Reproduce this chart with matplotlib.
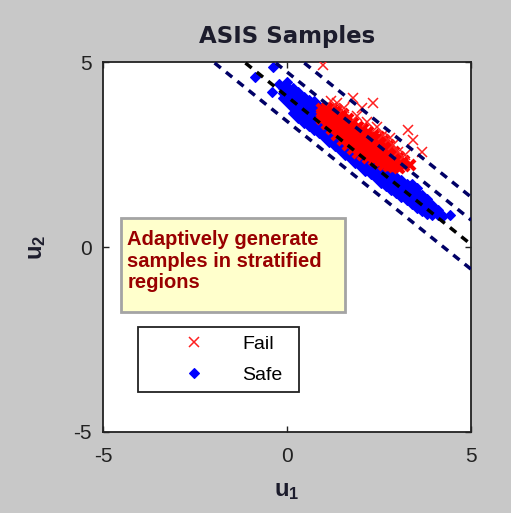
import matplotlib
matplotlib.use("Agg")
import matplotlib.pyplot as plt
from matplotlib.patches import Rectangle

plt.rcParams['font.family'] = ['Liberation Sans', 'DejaVu Sans']
plt.rcParams['mathtext.fontset'] = 'custom'
plt.rcParams['mathtext.rm'] = 'Liberation Sans'
plt.rcParams['mathtext.bf'] = 'Liberation Sans:bold'
plt.rcParams['axes.unicode_minus'] = False

# stratification lines u2 = slope*u1 + b (black one is the limit state)
line_slope = -0.8
strata_b = [3.40, 4.73, 5.35]
limit_b = 4.07

# Safe samples (blue diamonds)
safe_cols = [
    (-0.11, [4.02, 4.16, 4.30]),
    (0.03, [3.88, 4.02, 4.16, 4.30]),
    (0.17, [3.62, 3.76, 3.90, 4.04, 4.18, 4.30]),
    (0.31, [3.48, 3.62, 3.76, 3.90, 4.04, 4.18]),
    (0.45, [3.36, 3.50, 3.64, 3.78, 3.92, 4.06]),
    (0.59, [3.28, 3.42, 3.56, 3.70, 3.84, 3.98]),
    (0.73, [3.16, 3.30, 3.44, 3.58, 3.72, 3.86, 3.95]),
    (0.87, [3.08, 3.22, 3.36, 3.50, 3.64, 3.80]),
    (1.01, [2.96, 3.10, 3.24, 3.38, 3.52]),
    (1.15, [2.84, 2.98, 3.12, 3.26, 3.38]),
    (1.29, [2.72, 2.86, 3.00, 3.14, 3.28]),
    (1.43, [2.62, 2.76, 2.90, 3.04]),
    (1.57, [2.50, 2.64, 2.78, 2.92]),
    (1.71, [2.40, 2.54, 2.68, 2.82]),
    (1.85, [2.28, 2.42, 2.56, 2.70]),
    (1.99, [2.18, 2.32, 2.46, 2.60]),
    (2.13, [2.06, 2.20, 2.34, 2.48]),
    (2.27, [1.96, 2.10, 2.24, 2.38]),
    (2.41, [1.86, 2.00, 2.14, 2.28]),
    (2.55, [1.74, 1.88, 2.02, 2.16]),
    (2.69, [1.64, 1.78, 1.92, 2.06]),
    (2.83, [1.54, 1.68, 1.82, 1.96]),
    (2.97, [1.46, 1.60, 1.74, 1.90]),
    (3.11, [1.36, 1.50, 1.64, 1.80]),
    (3.25, [1.26, 1.40, 1.54, 1.70]),
    (3.39, [1.16, 1.30, 1.44, 1.58, 1.70]),
    (3.53, [1.06, 1.20, 1.34, 1.48, 1.60]),
    (3.67, [0.96, 1.10, 1.24, 1.40]),
    (3.81, [0.90, 1.04, 1.18, 1.30]),
    (3.95, [0.86, 1.00, 1.14]),
    (4.09, [0.86, 1.00]),
    (4.23, [0.85]),
    (4.43, [0.86]),
]
safe_extra_x = [-0.87, -0.38, 0.00, -0.41, -0.22]
safe_extra_y = [4.60, 4.86, 4.45, 4.19, 4.40]

# Fail samples (red crosses): dense core plus scattered ones
fail_cols = [
    (0.95, [3.46, 3.60, 3.74]),
    (1.09, [3.33, 3.47, 3.61, 3.75]),
    (1.23, [3.18, 3.32, 3.46, 3.60, 3.74]),
    (1.37, [3.04, 3.18, 3.32, 3.46, 3.60, 3.70]),
    (1.51, [2.90, 3.04, 3.18, 3.32, 3.46, 3.60]),
    (1.65, [2.76, 2.90, 3.04, 3.18, 3.32, 3.46]),
    (1.79, [2.66, 2.80, 2.94, 3.08, 3.22, 3.36]),
    (1.93, [2.54, 2.68, 2.82, 2.96, 3.10, 3.24]),
    (2.07, [2.48, 2.62, 2.76, 2.90, 3.04, 3.18]),
    (2.21, [2.40, 2.54, 2.68, 2.82, 2.96, 3.10]),
    (2.35, [2.34, 2.48, 2.62, 2.76, 2.90, 3.04]),
    (2.49, [2.28, 2.42, 2.56, 2.70, 2.84, 2.96]),
    (2.63, [2.22, 2.36, 2.50, 2.64, 2.78, 2.88]),
    (2.77, [2.20, 2.34, 2.48, 2.62, 2.76]),
    (2.91, [2.16, 2.30, 2.44, 2.58]),
    (3.05, [2.14, 2.28, 2.42]),
    (3.19, [2.18, 2.32]),
    (3.33, [2.22]),
]
fail_extra_x = [0.98, 1.36, 1.79, 2.34, 2.04, 2.17, 2.45, 2.61, 2.88, 3.02,
                3.29, 3.42, 3.67, 1.20, 1.55, 1.90, 2.80, 3.20]
fail_extra_y = [4.92, 3.89, 4.03, 3.89, 3.76, 3.38, 3.24, 3.03, 2.76, 2.57,
                3.16, 2.89, 2.57, 3.95, 3.75, 3.55, 2.95, 2.50]

note_text = "Adaptively generate\nsamples in stratified\nregions"

safe_x = [c for c, ys in safe_cols for _ in ys] + safe_extra_x
safe_y = [y for c, ys in safe_cols for y in ys] + safe_extra_y
core_x = [c for c, ys in fail_cols for _ in ys]
core_y = [y for c, ys in fail_cols for y in ys]

fig = plt.figure(figsize=(5.11, 5.13), dpi=100, facecolor='#c8c8c8')
ax = fig.add_axes([0.2016, 0.1579, 0.7202, 0.7212])

ax.plot(safe_x, safe_y, ls='none', marker='D', ms=4.6, mew=0.8, color='#0000ff',
        label='Safe', zorder=2)
# dense core overlaps so much that it reads as a solid patch
ax.plot(core_x, core_y, ls='none', marker='x', ms=7.5, mew=3.0, color='#ff0000',
        zorder=3)
ax.plot(fail_extra_x, fail_extra_y, ls='none', marker='x', ms=7, mew=1.1,
        color='#ff2020', label='Fail', zorder=3)

xs = [-5, 5]
for b in strata_b:
    ax.plot(xs, [line_slope * x + b for x in xs], color='#000066', lw=2.5,
            dashes=(2.3, 1.9), zorder=4)
ax.plot(xs, [line_slope * x + limit_b for x in xs], color='black', lw=2.5,
        dashes=(2.3, 1.9), zorder=4)

ax.set_xlim(-5, 5)
ax.set_ylim(-5, 5)
ax.set_xticks([-5, 0, 5])
ax.set_yticks([-5, 0, 5])
ax.tick_params(direction='in', length=4, width=1, top=True, right=True,
               labelsize=15, colors='#222222')
ax.tick_params(axis='x', pad=11)
ax.tick_params(axis='y', pad=8)
for s in ax.spines.values():
    s.set_linewidth(1.3)
    s.set_color('#222222')

ax.set_title('ASIS Samples', fontfamily='DejaVu Sans', fontweight='bold',
             fontsize=16.5, color='#1c1c2c', pad=14)
ax.set_xlabel(r'$\mathbf{u_1}$', fontsize=17, labelpad=10, color='#1c1c2c')
ax.set_ylabel(r'$\mathbf{u_2}$', fontsize=17, labelpad=18, color='#1c1c2c')

ax.add_patch(Rectangle((0.049, 0.324), 0.609, 0.254, transform=ax.transAxes,
                       facecolor='#ffffcc', edgecolor='#a4a4a4', lw=2, zorder=6))
ax.text(0.066, 0.545, note_text, transform=ax.transAxes, ha='left', va='top',
        fontsize=14.5, fontweight='bold', color='#990000', linespacing=1.15,
        zorder=7)

handles, labels = ax.get_legend_handles_labels()
leg = ax.legend(handles[::-1], labels[::-1], loc='upper left',
                bbox_to_anchor=(0.095, 0.078, 0.438, 0.206),
                mode='expand', borderaxespad=0, numpoints=1, fontsize=14,
                handlelength=4.9, handletextpad=0.0, borderpad=0.45,
                labelspacing=0.65, fancybox=False, framealpha=1,
                edgecolor='#222222')
leg.get_frame().set_linewidth(1.3)
leg.set_zorder(8)

fig.savefig('out.png', dpi=100, facecolor=fig.get_facecolor())
